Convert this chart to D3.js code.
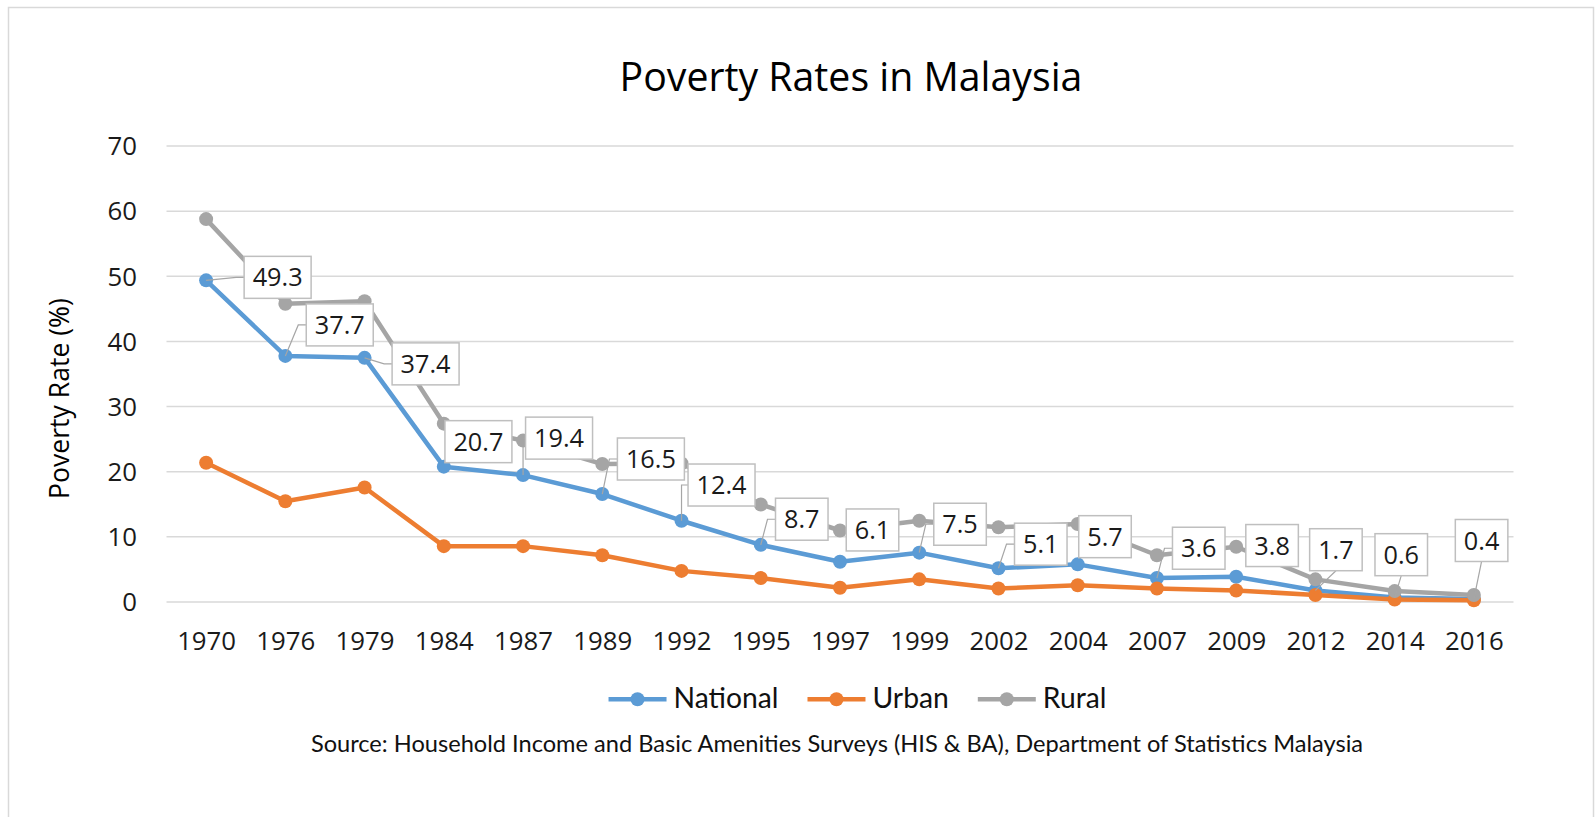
<!DOCTYPE html>
<html><head><meta charset="utf-8">
<script src="https://cdn.jsdelivr.net/npm/d3@7"></script>
<style>body{margin:0;background:#fff;} svg{display:block;}</style>
</head><body>
<svg id="chart" width="1596" height="817"></svg>
<script>
// ---- data ----
const years = ["1970","1976","1979","1984","1987","1989","1992","1995","1997","1999","2002","2004","2007","2009","2012","2014","2016"];
const national = [49.3,37.7,37.4,20.7,19.4,16.5,12.4,8.7,6.1,7.5,5.1,5.7,3.6,3.8,1.7,0.6,0.4];
const urban    = [21.3,15.4,17.5,8.5,8.5,7.1,4.7,3.6,2.1,3.4,2.0,2.5,2.0,1.7,1.0,0.3,0.2];
const rural    = [58.7,45.7,46.1,27.3,24.7,21.1,21.2,14.9,10.9,12.4,11.4,11.9,7.1,8.4,3.4,1.6,1.0];
const yTicks = [0,10,20,30,40,50,60,70];
const seriesNames = ["National","Urban","Rural"];
const titleText = "Poverty Rates in Malaysia";
const yTitleText = "Poverty Rate (%)";
const sourceText = "Source: Household Income and Basic Amenities Surveys (HIS & BA), Department of Statistics Malaysia";

// ---- layout (label box offsets from National points, px) ----
const labelDx = [71.5,54.4,61,34.6,36,48.6,40,41,32.5,40.8,42.3,27.3,41.8,35.9,20.5,6.6,7.7];
const labelDy = [-3,-31,6,-25,-37,-35,-35.7,-25.6,-31.8,-28.4,-24.1,-27.7,-29.8,-31.2,-40.7,-42.9,-58.4];
const colors = ["#5B9BD5","#ED7D31","#A5A5A5"];

(function () {
const W = 1596, H = 817;
const svg = d3.select("#chart");
svg.append("rect").attr("width", W).attr("height", H).attr("fill", "#fff");
svg.append("rect").attr("x", 8.5).attr("y", 7.5).attr("width", 1585).attr("height", 860)
  .attr("fill", "none").attr("stroke", "#d9d9d9").attr("stroke-width", 1.5);

function fitSize(family, text, target) {
  const t = svg.append("text").attr("font-family", family).attr("font-size", 100).text(text);
  const w = t.node().getComputedTextLength();
  t.remove();
  return 100 * target / w;
}
const F1 = "'Open Sans', 'Noto Sans', sans-serif";
const F2 = "Lato, 'Open Sans', sans-serif";

const pL = 166.5, pR = 1513.5, pT = 145.5, pB = 601.5;
const x = d3.scalePoint().domain(years).range([pL, pR]).padding(0.5);
const y = d3.scaleLinear().domain([0, 70]).range([pB, pT]);

// title
svg.append("text").attr("x", 851).attr("y", 90.7).attr("text-anchor", "middle")
  .attr("font-family", F1).attr("font-size", fitSize(F1, titleText, 463)).attr("fill", "#000")
  .text(titleText);

// y axis + gridlines
const tickFont = fitSize(F1, "1970", 59);
const gY = svg.append("g").attr("transform", `translate(${pL},0)`)
  .call(d3.axisLeft(y).tickValues(yTicks).tickSize(-(pR - pL)).tickPadding(29.5));
gY.select(".domain").remove();
gY.selectAll(".tick line").attr("stroke", "#d9d9d9").attr("stroke-width", 1.5);
gY.selectAll(".tick text").attr("font-family", F1).attr("font-size", tickFont).attr("fill", "#1a1a1a").attr("dy", "0.36em");

// x axis labels
const gX = svg.append("g").attr("transform", `translate(0,${pB})`)
  .call(d3.axisBottom(x).tickSize(0).tickPadding(10));
gX.select(".domain").remove();
gX.selectAll(".tick text").attr("font-family", F1).attr("font-size", tickFont).attr("fill", "#1a1a1a")
  .attr("y", 48).attr("dy", null);

// y title
svg.append("text").attr("transform", `translate(69,398.5) rotate(-90)`).attr("text-anchor", "middle")
  .attr("font-family", F1).attr("font-size", fitSize(F1, yTitleText, 201)).attr("fill", "#000")
  .text(yTitleText);

// series
const allSeries = [national, urban, rural];
const line = d3.line().x((d, i) => x(years[i])).y(d => y(d));
allSeries.forEach((vals, si) => {
  const g = svg.append("g");
  g.append("path").datum(vals).attr("d", line).attr("fill", "none")
    .attr("stroke", colors[si]).attr("stroke-width", 4.5).attr("stroke-linejoin", "round");
  g.selectAll("circle").data(vals).join("circle")
    .attr("cx", (d, i) => x(years[i])).attr("cy", d => y(d)).attr("r", 7).attr("fill", colors[si]);
});

// data labels (National)
const labFont = fitSize(F1, "49.3", 50);
const labels = national.map((v, i) => {
  const t = svg.append("text").attr("font-family", F1).attr("font-size", labFont).text(v.toFixed(1));
  const w = t.node().getComputedTextLength();
  t.remove();
  const px = x(years[i]), py = y(v);
  const cx = px + labelDx[i], cy = py + labelDy[i];
  const bw = w + 17, bh = 42;
  return {v, px, py, cx, cy, bw, bh, x0: cx - bw / 2, x1: cx + bw / 2, y0: cy - bh / 2, y1: cy + bh / 2};
});
const leaderG = svg.append("g");
labels.forEach(L => {
  const qx = Math.max(L.x0, Math.min(L.px, L.x1));
  const qy = Math.max(L.y0, Math.min(L.py, L.y1));
  const dist = Math.hypot(L.px - qx, L.py - qy);
  if (dist < 15) return;
  let pts;
  if (L.px < L.x0) {
    const e = Math.min(8, L.x0 - L.px);
    pts = [[L.px, L.py], [L.x0 - e, L.cy], [L.x0, L.cy]];
  } else if (L.py > L.y1) {
    pts = [[L.px, L.py], [L.cx, L.y1]];
  } else {
    pts = [[L.px, L.py], [qx, qy]];
  }
  leaderG.append("path").attr("d", d3.line()(pts)).attr("fill", "none")
    .attr("stroke", "#a6a6a6").attr("stroke-width", 1.2);
});
const labG = svg.append("g");
labels.forEach(L => {
  labG.append("rect").attr("x", L.x0).attr("y", L.y0).attr("width", L.bw).attr("height", L.bh)
    .attr("fill", "#fff").attr("stroke", "#bfbfbf").attr("stroke-width", 1.5);
  labG.append("text").attr("x", L.cx).attr("y", L.cy).attr("dy", "0.36em").attr("text-anchor", "middle")
    .attr("font-family", F1).attr("font-size", labFont).attr("fill", "#1a1a1a").text(L.v.toFixed(1));
});

// legend
const legFont = fitSize(F2, "National", 105);
const legG = svg.append("g");
const items = seriesNames.map((n, i) => {
  const t = legG.append("text").attr("font-family", F2).attr("font-size", legFont).attr("fill", "#111").text(n);
  return {t, w: t.node().getComputedTextLength(), c: colors[i]};
});
const lineLen = 58, gapT = 7, gapI = 29;
const total = d3.sum(items, d => lineLen + gapT + d.w) + gapI * (items.length - 1);
let lx = 857.5 - total / 2;
const ly = 699.3;
items.forEach(it => {
  legG.append("line").attr("x1", lx).attr("x2", lx + lineLen).attr("y1", ly).attr("y2", ly)
    .attr("stroke", it.c).attr("stroke-width", 4.5);
  legG.append("circle").attr("cx", lx + lineLen / 2).attr("cy", ly).attr("r", 7).attr("fill", it.c);
  it.t.attr("x", lx + lineLen + gapT).attr("y", 708.3);
  lx += lineLen + gapT + it.w + gapI;
});

// source
svg.append("text").attr("x", 837).attr("y", 751.7).attr("text-anchor", "middle")
  .attr("font-family", F2).attr("font-size", fitSize(F2, sourceText, 1053)).attr("fill", "#111")
  .text(sourceText);
})();
</script>
</body></html>
